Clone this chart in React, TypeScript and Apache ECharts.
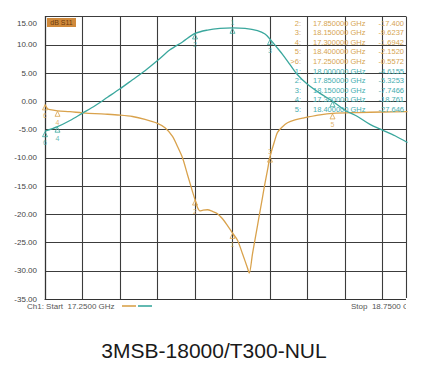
import React, { useEffect, useRef } from "react";
import * as echarts from "echarts";

const s11Freq = [17.25, 17.26, 17.27, 17.3, 17.35, 17.4, 17.45, 17.5, 17.55, 17.6, 17.65, 17.7, 17.73, 17.76, 17.78, 17.8, 17.82, 17.84, 17.85, 17.86, 17.87, 17.88, 17.9, 17.92, 17.94, 17.96, 17.98, 18.0, 18.02, 18.04, 18.06, 18.067, 18.08, 18.09, 18.1, 18.11, 18.12, 18.13, 18.14, 18.15, 18.17, 18.18, 18.2, 18.22, 18.25, 18.28, 18.3, 18.35, 18.4, 18.5, 18.6, 18.7];
const s11Db = [-0.56, -1.3, -1.5, -1.69, -1.85, -2.05, -2.2, -2.3, -2.45, -2.7, -3.2, -3.9, -4.7, -6.2, -8.0, -10.0, -13.0, -16.0, -17.4, -18.8, -19.4, -19.3, -19.2, -19.5, -19.9, -20.8, -22.0, -23.3, -24.6, -27.0, -29.5, -30.4, -27.0, -24.5, -22.0, -19.5, -17.0, -14.5, -12.2, -9.8, -6.8, -5.5, -4.5, -3.8, -3.3, -3.0, -2.8, -2.4, -2.15, -2.0, -1.9, -1.85];

const s21Freq = [17.25, 17.3, 17.35, 17.4, 17.45, 17.5, 17.55, 17.6, 17.65, 17.7, 17.75, 17.8, 17.85, 17.9, 17.95, 18.0, 18.05, 18.1, 18.13, 18.15, 18.18, 18.2, 18.23, 18.26, 18.3, 18.35, 18.4, 18.45, 18.5, 18.55, 18.6, 18.65, 18.7];
const s21Db = [-5.3, -4.5, -3.4, -2.1, -0.8, 0.7, 2.2, 3.8, 5.4, 7.2, 9.1, 10.5, 12.0, 12.6, 12.9, 13.0, 12.9, 12.5, 11.9, 11.0, 9.4, 8.3, 6.5, 4.7, 3.0, 1.4, 0.0, -1.6, -2.7, -4.1, -5.1, -6.1, -7.3];

const markerNames = ["1", "2", "3", "4", "5", "6"];
const markerFreq = [18.0, 17.85, 18.15, 17.3, 18.4, 17.25];
const markerS11 = [-23.3, -17.4, -9.8, -1.69, -2.15, -0.56];
const markerS21 = [13.0, 12.0, 11.0, -4.5, 0.0, -5.3];

const tableS11No = ["2:", "3:", "4:", "5:", ">6:"];
const tableS11Freq = ["17.850000 GHz", "18.150000 GHz", "17.300000 GHz", "18.400000 GHz", "17.250000 GHz"];
const tableS11Val = ["-17.400", "-9.6237", "-1.6942", "-2.1520", "-0.5572"];
const tableS21No = ["1:", "2:", "3:", "4:", "5:"];
const tableS21Freq = ["18.000000 GHz", "17.850000 GHz", "18.150000 GHz", "17.300000 GHz", "18.400000 GHz"];
const tableS21Val = ["-4.6155", "-5.3253", "-7.7466", "-18.761", "-27.646"];

const yTicks = { min: -35, max: 15, interval: 5 };
const xRange = { min: 17.25, max: 18.694, interval: 0.15 };

const ORANGE = "#d9a24c";
const TEAL = "#3aa79d";
const FONT = "Liberation Sans, Arial, sans-serif";

export default function App() {
  const ref = useRef<HTMLDivElement>(null);
  useEffect(() => {
    const chart = echarts.init(ref.current!, null, { renderer: "svg" });
    const tableTexts: any[] = [];
    const rows = [
      ...tableS11No.map((n, i) => ({ n, f: tableS11Freq[i], v: tableS11Val[i], c: "#d6a552" })),
      ...tableS21No.map((n, i) => ({ n, f: tableS21Freq[i], v: tableS21Val[i], c: "#45aeb0" })),
    ];
    rows.forEach((r, i) => {
      const y = 23 + i * 9.6;
      const st = { fontSize: 7.5, fontFamily: FONT, fill: r.c, verticalAlign: "middle" };
      tableTexts.push({ type: "text", x: 301, y, style: { ...st, text: r.n, align: "right" }, z: 50 });
      tableTexts.push({ type: "text", x: 313, y, style: { ...st, text: r.f, align: "left" }, z: 50 });
      tableTexts.push({ type: "text", x: 404, y, style: { ...st, text: r.v, align: "right" }, z: 50 });
    });
    const labelOf = (series: string, i: number) => {
      if (series === "s21" && i === 4) return { show: false };
      const position = (series === "s21" && i === 0) || (series === "s11" && i === 2) ? "top" : "bottom";
      return { show: true, formatter: markerNames[i], position, distance: 2 };
    };
    chart.setOption({
      animation: false,
      backgroundColor: "#ffffff",
      textStyle: { fontFamily: FONT },
      grid: { left: 45, right: 25, top: 16.5, bottom: 68 },
      xAxis: {
        type: "value",
        min: xRange.min,
        max: xRange.max,
        interval: xRange.interval,
        axisLabel: { show: false },
        axisTick: { show: false },
        axisLine: { show: true, onZero: false, lineStyle: { color: "#333", width: 1.2 } },
        splitLine: { show: true, lineStyle: { color: "#3c3c3c", width: 1.1 } },
      },
      yAxis: {
        type: "value",
        min: yTicks.min,
        max: yTicks.max,
        interval: yTicks.interval,
        axisLabel: {
          formatter: (v: number) => (v === yTicks.max ? "{t|" + v.toFixed(2) + "}" : v.toFixed(2)),
          rich: { t: { fontSize: 8, color: "#444", fontFamily: FONT, padding: [14, 0, 0, 0] } },
          fontSize: 8,
          color: "#444",
          margin: 8,
          fontFamily: FONT,
        },
        axisTick: { show: false },
        axisLine: { show: true, lineStyle: { color: "#333", width: 1.2 } },
        splitLine: { show: true, lineStyle: { color: "#3c3c3c", width: 1.1 } },
      },
      series: [
        {
          type: "line",
          data: s11Freq.map((f, i) => [f, s11Db[i]]),
          showSymbol: false,
          smooth: 0.3,
          lineStyle: { color: ORANGE, width: 1.3 },
          z: 5,
        },
        {
          type: "line",
          data: s21Freq.map((f, i) => [f, s21Db[i]]),
          showSymbol: false,
          smooth: 0.3,
          lineStyle: { color: TEAL, width: 1.3 },
          z: 5,
        },
        {
          type: "scatter",
          data: markerFreq.map((f, i) => ({ value: [f, markerS11[i]], label: labelOf("s11", i) })),
          symbol: "triangle",
          symbolSize: 5,
          symbolOffset: [0, 3],
          itemStyle: { color: "rgba(255,255,255,0)", borderColor: ORANGE, borderWidth: 1 },
          label: { fontSize: 7, color: ORANGE, fontFamily: FONT },
          z: 10,
        },
        {
          type: "scatter",
          data: markerFreq.map((f, i) => ({ value: [f, markerS21[i]], label: labelOf("s21", i) })),
          symbol: "triangle",
          symbolSize: 5,
          symbolOffset: [0, 3],
          itemStyle: { color: "rgba(255,255,255,0)", borderColor: TEAL, borderWidth: 1 },
          label: { fontSize: 7, color: TEAL, fontFamily: FONT },
          z: 10,
        },
      ],
      graphic: [
        { type: "rect", shape: { x: 47, y: 18, width: 29, height: 9 }, style: { fill: "#d08a3c" }, z: 40 },
        { type: "text", x: 61.5, y: 22.5, style: { text: "dB S11", fontSize: 7, fontFamily: FONT, fill: "#6e3a0c", align: "center", verticalAlign: "middle" }, z: 41 },
        ...tableTexts,
        { type: "text", x: 27, y: 306, style: { text: "Ch1: Start  17.2500 GHz", fontSize: 8, fontFamily: FONT, fill: "#555", verticalAlign: "middle" }, z: 40 },
        { type: "line", shape: { x1: 122, y1: 306, x2: 136, y2: 306 }, style: { stroke: ORANGE, lineWidth: 1.6 }, z: 40 },
        { type: "line", shape: { x1: 138, y1: 306, x2: 152, y2: 306 }, style: { stroke: TEAL, lineWidth: 1.6 }, z: 40 },
        { type: "text", x: 351, y: 306, style: { text: "Stop  18.7500 GHz", fontSize: 8, fontFamily: FONT, fill: "#555", verticalAlign: "middle" }, z: 40 },
        { type: "rect", shape: { x: 406, y: 298, width: 30, height: 20 }, style: { fill: "#ffffff" }, z: 45 },
        { type: "text", x: 214, y: 350, style: { text: "3MSB-18000/T300-NUL", fontSize: 21, fontFamily: FONT, fill: "#1a1a1a", align: "center", verticalAlign: "middle" }, z: 40 },
      ],
    });
    return () => chart.dispose();
  }, []);
  return <div ref={ref} style={{ position: "absolute", left: 0, top: 0, width: 431, height: 367 }} />;
}
